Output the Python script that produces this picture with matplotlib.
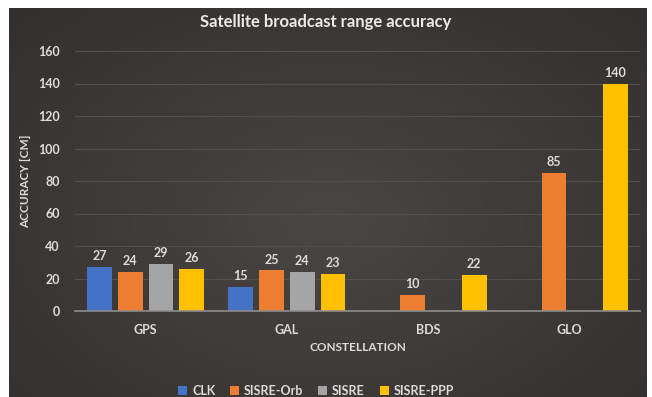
import matplotlib
matplotlib.use("Agg")
import matplotlib.pyplot as plt
import numpy as np
from matplotlib.patches import Rectangle

categories = ["GPS", "GAL", "BDS", "GLO"]
series_names = ["CLK", "SISRE-Orb", "SISRE", "SISRE-PPP"]
clk = [27, 15, np.nan, np.nan]
sisre_orb = [24, 25, 10, 85]
sisre = [29, 24, np.nan, np.nan]
sisre_ppp = [26, 23, 22, 140]
yticks = [0, 20, 40, 60, 80, 100, 120, 140, 160]

colors = ["#4472c4", "#ed7d31", "#a5a5a5", "#ffc000"]
bg = "#3f3b39"
txt = "#dcdcdc"

plt.rcParams['font.family'] = ['Lato', 'DejaVu Sans']

fig = plt.figure(figsize=(6.52, 3.97), dpi=100, facecolor="white")
fig.patches.append(Rectangle((9/652, 0), (647-9)/652, 1-8/397, transform=fig.transFigure,
                             facecolor=bg, edgecolor="none", zorder=-10))
# subtle radial lightening
grad = np.linspace(0, 1, 300)
X, Y = np.meshgrid(grad, grad)
R = np.clip(1 - np.sqrt((X-0.5)**2*1.2 + (Y-0.55)**2), 0, 1)
bgax = fig.add_axes([9/652, 0, (647-9)/652, 1-8/397], zorder=-5)
bgax.imshow(R, cmap=matplotlib.colors.LinearSegmentedColormap.from_list("g", ["#332f2d", "#4a4644"]),
            aspect="auto", extent=[0, 1, 0, 1])
bgax.axis("off")

ax = fig.add_axes([75/652, 1-311/397, (640-75)/652, (311-51)/397])
ax.set_facecolor("none")
x = np.arange(len(categories))
w = 0.175
slot = 0.218
data = [clk, sisre_orb, sisre, sisre_ppp]
for i, (vals, name, c) in enumerate(zip(data, series_names, colors)):
    pos = x + (i - 1.5) * slot
    ax.bar(pos, vals, width=w, color=c, label=name, zorder=3)
    for p, v in zip(pos, vals):
        if not np.isnan(v):
            ax.text(p, v + 3, f"{int(v)}", ha="center", va="bottom", color=txt,
                    fontsize=9, fontweight="bold", zorder=4)

ax.set_ylim(0, 160)
ax.set_xlim(-0.5, 3.5)
ax.set_yticks(yticks)
ax.set_yticklabels([str(t) for t in yticks], color=txt, fontsize=9, fontweight="bold")
ax.set_xticks(x)
ax.set_xticklabels(categories, color=txt, fontsize=9, fontweight="bold")
ax.tick_params(axis="both", length=0)
ax.tick_params(axis="y", pad=11)
ax.tick_params(axis="x", pad=9)
ax.grid(axis="y", color="#524e4b", linewidth=0.8, zorder=0)
for s in ["top", "right", "left"]:
    ax.spines[s].set_visible(False)
ax.spines["bottom"].set_color("#8c8c8c")
ax.spines["bottom"].set_linewidth(1.2)
ax.spines["bottom"].set_zorder(5)

ax.set_ylabel("ACCURACY [CM]", color=txt, fontsize=8.5, fontweight="bold", labelpad=5)
ax.set_xlabel("CONSTELLATION", color=txt, fontsize=8.5, fontweight="bold", labelpad=5)
fig.text(0.5, 1-22/397, "Satellite broadcast range accuracy", ha="center", va="center",
         color="#ebebeb", fontsize=12, fontweight="bold")

leg = fig.legend(loc="center", bbox_to_anchor=(0.485, 1-391/397), ncol=4, frameon=False,
                 fontsize=9, handlelength=0.7, handleheight=0.7, columnspacing=1.2, handletextpad=0.4)
for t in leg.get_texts():
    t.set_color(txt)
    t.set_fontweight("bold")

fig.savefig("out.png", dpi=100, facecolor="white")
